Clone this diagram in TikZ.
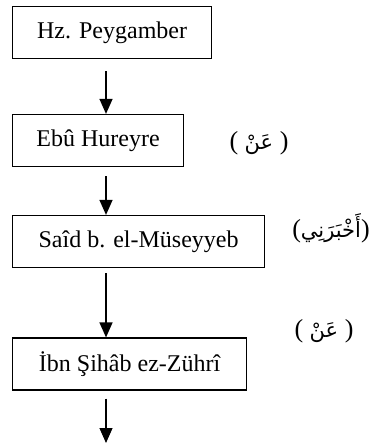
\documentclass[tikz,border=0pt]{standalone}
\usepackage{fontspec}
\setmainfont{Liberation Serif}
\newfontfamily\arabicfont[Script=Arabic]{DejaVu Sans}
\TeXXeTstate=1
\usetikzlibrary{arrows.meta, positioning}
\newcommand{\arabtxt}[1]{{\arabicfont\fontsize{21}{24}\selectfont\beginR #1\endR}}

\tikzset{
    ravi/.style={draw, line width=1.2pt, anchor=west, minimum height=52pt,
        inner sep=0pt, font=\fontsize{24}{28}\selectfont},
    sigha/.style={inner sep=0pt, font=\fontsize{26}{30}\selectfont},
    isnad/.style={line width=1.2pt, -{Triangle[length=15pt, width=13pt]}}
}

\begin{document}
\begin{tikzpicture}[x=1pt, y=-1pt]
    \useasboundingbox (0,0) rectangle (379,446);

    % Narrators
    \node[ravi, minimum width=199pt] (peygamber) at (12,32.5) {Hz. Peygamber};
    \node[ravi, minimum width=171pt] (hureyre) at (12,140.5) {Ebû Hureyre};
    \node[ravi, minimum width=252pt] (said) at (12,241.5) {Saîd b. el-Müseyyeb};
    \node[ravi, minimum width=234pt] (zuhri) at (12,364) {İbn Şihâb ez-Zührî};

    % Chain axis and open end
    \coordinate (axis) at (106,0);
    \coordinate (open) at (106,443);

    % Arrows
    \draw[isnad] ([yshift=-12pt]peygamber.south -| axis) -- (hureyre.north -| axis);
    \draw[isnad] ([yshift=-9pt]hureyre.south -| axis) -- (said.north -| axis);
    \draw[isnad] ([yshift=-5pt]said.south -| axis) -- (zuhri.north -| axis);
    \draw[isnad] ([yshift=-8pt]zuhri.south -| axis) -- (open);

    % Transmission terms
    \node[sigha] (an1) at (259,143) {( \arabtxt{عَنْ} )};
    \node[sigha] (ahbarani) at (331,228) {(\arabtxt{أَخْبَرَنِي})};
    \node[sigha] (an2) at (324,331) {( \arabtxt{عَنْ} )};
\end{tikzpicture}
\end{document}
